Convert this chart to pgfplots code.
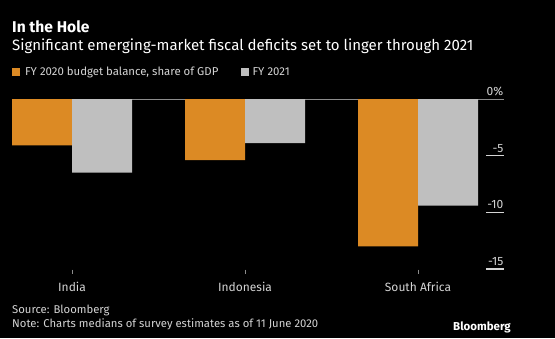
\documentclass[border=0pt]{standalone}
\usepackage{pgfplots}
\pgfplotsset{compat=1.18}
\usepackage{fontspec}
\setmainfont{Fira Sans}
\definecolor{borange}{HTML}{DC8A24}
\definecolor{bgrey}{HTML}{BFBFBF}
\definecolor{txt}{HTML}{D4D4D4}
\definecolor{zline}{HTML}{8C8C8C}
\begin{document}
\begin{tikzpicture}[x=1pt,y=1pt]
\useasboundingbox (0,0) rectangle (555,338);
\fill[black] (0,0) rectangle (555,338);
% titles
\node[anchor=base west, inner sep=0pt, text=white, font=\fontsize{15.6}{19}\selectfont\bfseries] at (12,305.7) {In the Hole};
\node[anchor=base west, inner sep=0pt, text=white, font=\fontsize{15}{17}\selectfont] at (12,287.3) {Significant emerging-market fiscal deficits set to linger through 2021};
% legend
\fill[borange] (12,262) rectangle (20,270);
\node[anchor=base west, inner sep=0pt, text=txt, font=\fontsize{11.4}{13}\selectfont] at (25,262) {FY 2020 budget balance, share of GDP};
\fill[bgrey] (241,262) rectangle (249,270);
\node[anchor=base west, inner sep=0pt, text=txt, font=\fontsize{11.4}{13}\selectfont] at (252.5,262) {FY 2021};
% footer
\node[anchor=base west, inner sep=0pt, text=txt, font=\fontsize{11.3}{13}\selectfont] at (12,24.7) {Source: Bloomberg};
\node[anchor=base west, inner sep=0pt, text=txt, font=\fontsize{11.3}{13}\selectfont] at (12,10.5) {Note: Charts medians of survey estimates as of 11 June 2020};
\node[anchor=base east, inner sep=0pt, text=white, font=\fontsize{11.5}{13}\selectfont\bfseries] at (511,7.3) {Bloomberg};
\begin{axis}[
  at={(12pt,69pt)}, anchor=south west, scale only axis,
  width=492pt, height=170pt,
  xmin=-0.347, xmax=2.497, ymin=-15, ymax=0,
  axis line style={draw=none},
  xtick={0,1,2}, xticklabels={India,Indonesia,South Africa},
  xtick style={draw=none},
  x tick label style={text=txt, font=\fontsize{12}{14}\selectfont, yshift=-10pt},
  ytick={-15,-10,-5,0}, yticklabels={-15,-10,-5,0\%},
  ytick style={draw=none},
  yticklabel pos=right,
  y tick label style={text=txt, font=\fontsize{12}{14}\selectfont, anchor=south east, inner sep=0pt, xshift=-0.5pt, yshift=3pt},
  clip=false,
]
% zero line
\addplot[color=zline, line width=0.9pt, mark=none, forget plot] coordinates {(-0.347,0) (2.497,0)};
% bars
\addplot[ybar, bar width=0.3468, bar shift=-0.1734, fill=borange, draw=none] coordinates {(0,-4.1) (1,-5.4) (2,-13.0)};
\addplot[ybar, bar width=0.3468, bar shift=0.1734, fill=bgrey, draw=none] coordinates {(0,-6.5) (1,-3.9) (2,-9.4)};
% short tick lines under the right-hand labels
\addplot[color=txt, line width=1.1pt, mark=none, forget plot] coordinates {(2.393,-5) (2.497,-5)};
\addplot[color=txt, line width=1.1pt, mark=none, forget plot] coordinates {(2.393,-10) (2.497,-10)};
\addplot[color=txt, line width=1.1pt, mark=none, forget plot] coordinates {(2.393,-15) (2.497,-15)};
% small category ticks
\addplot[color=zline, line width=1pt, mark=none, forget plot] coordinates {(0,-15.05) (0,-15.4)};
\addplot[color=zline, line width=1pt, mark=none, forget plot] coordinates {(1,-15.05) (1,-15.4)};
\addplot[color=zline, line width=1pt, mark=none, forget plot] coordinates {(2,-15.05) (2,-15.4)};
\end{axis}
\end{tikzpicture}
\end{document}
